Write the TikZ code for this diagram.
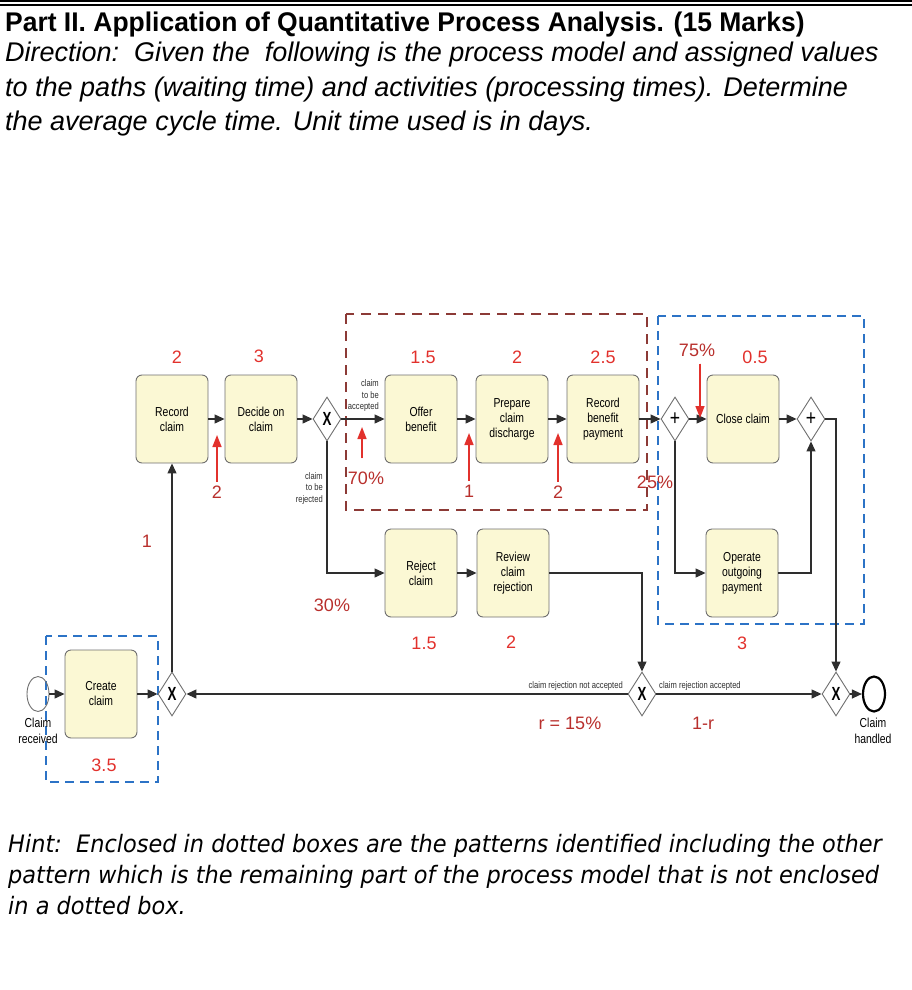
\documentclass[tikz,border=0pt]{standalone}
\usepackage{fontspec}
\setmainfont{Liberation Sans}
\newfontfamily\headfont[FakeStretch=0.98]{Liberation Sans}
\newfontfamily\hintfont[FakeStretch=0.935]{DejaVu Sans}
\newfontfamily\bpmnfont[FakeStretch=0.8]{Liberation Sans}
\newfontfamily\gatefont[FakeStretch=0.7]{Liberation Sans}
\usepackage{tikz}
\usetikzlibrary{
  arrows.meta,
  shapes.geometric,
  positioning,
  calc
}
\definecolor{clTask}{HTML}{FBF8D4}
\definecolor{clTaskLine}{HTML}{6F6F6F}
\definecolor{clFlow}{HTML}{2E2E2E}
\definecolor{clRed}{HTML}{E2312C}
\definecolor{clDark}{HTML}{B82F2C}
\definecolor{clBrown}{HTML}{8C3A36}
\definecolor{clBlue}{HTML}{2C73C6}
\tikzset{
  task/.style={
    draw=clTaskLine, fill=clTask, rounded corners=6pt, line width=0.9pt,
    minimum width=72pt, minimum height=88pt, inner sep=2pt, align=center,
    font=\bpmnfont\fontsize{13}{15}\selectfont
  },
  gate/.style={diamond, draw=clTaskLine, fill=white, line width=0.9pt,
    minimum width=28pt, minimum height=44pt, inner sep=0pt},
  xgate/.style={gate, font=\gatefont\bfseries\fontsize{19}{19}\selectfont},
  pgate/.style={gate, font=\bpmnfont\fontsize{22}{22}\selectfont},
  event/.style={ellipse, draw=clTaskLine, line width=0.9pt,
    minimum width=22pt, minimum height=35pt, inner sep=0pt},
  endevent/.style={event, draw=black, line width=2.2pt},
  flow/.style={-{Triangle[length=10pt, width=9pt]}, line width=1.2pt, draw=clFlow},
  redarrow/.style={-{Triangle[length=12pt, width=9pt]}, line width=1.6pt, draw=clRed, fill=clRed},
  num/.style={font=\fontsize{18}{18}\selectfont, text=clRed, inner sep=0pt},
  numdark/.style={num, text=clDark},
  tag/.style={font=\bpmnfont\fontsize{9.5}{11.5}\selectfont, align=right, inner sep=0pt, text=clFlow},
  evlabel/.style={font=\bpmnfont\fontsize{13}{16}\selectfont, align=center, inner sep=0pt},
  zoneA/.style={draw=clBrown, dash pattern=on 10pt off 7pt, line width=2pt},
  zoneB/.style={draw=clBlue, dash pattern=on 9pt off 6pt, line width=2pt},
  headline/.style={anchor=base west, inner sep=0pt, font=\itshape\fontsize{27}{27}\selectfont},
  hintline/.style={anchor=base west, inner sep=0pt, font=\hintfont\itshape\fontsize{24}{24}\selectfont}
}

\begin{document}
\begin{tikzpicture}[x=1pt, y=-1pt]
  \useasboundingbox (0,0) rectangle (912,990);
  % rules at the top
  \draw[line width=2.4pt] (0,1.2) -- (912,1.2);
  \draw[line width=1.6pt] (0,4.8) -- (912,4.8);

  % question text
  \node[headline, font=\headfont\bfseries\fontsize{27}{27}\selectfont] (title) at (5,32)
    {Part II. Application of Quantitative Process Analysis. (15 Marks)};
  \node[headline] (dir1) at (5,62) {Direction:\ \ Given the\ \ following is the process model and assigned values};
  \node[headline] (dir2) at (5,96) {to the paths (waiting time) and activities (processing times). Determine};
  \node[headline] (dir3) at (5,130) {the average cycle time. Unit time used is in days.};

  % pattern boxes
  \draw[zoneA] (346,314) rectangle (647,510);
  \draw[zoneB] (658,316) rectangle (864,624);
  \draw[zoneB] (46,636) rectangle (158,782);

  % activities
  \foreach \name/\x/\y/\txt in {
    create/101/694/{Create\\claim},
    record/172/419/{Record\\claim},
    decide/261/419/{Decide on\\claim},
    offer/421/419/{Offer\\benefit},
    prepare/512/419/{Prepare\\claim\\discharge},
    recben/603/419/{Record\\benefit\\payment},
    close/743/419/{Close claim},
    reject/421/573/{Reject\\claim},
    review/513/573/{Review\\claim\\rejection},
    operate/742/573/{Operate\\outgoing\\payment}}{
    \node[task] (\name) at (\x,\y) {\txt};
  }

  % events and gateways
  \node[event] (start) at (38,694) {};
  \node[evlabel] (startlbl) at (38,731) {Claim\\received};
  \node[endevent] (stop) at (874,694) {};
  \node[evlabel] (stoplbl) at (873,731) {Claim\\handled};
  \node[xgate] (gjoin) at (172,694) {X};
  \node[xgate] (gdecide) at (327,419) {X};
  \node[xgate] (grework) at (642,694) {X};
  \node[xgate] (gend) at (836,694) {X};
  \node[pgate] (psplit) at (675,419) {+};
  \node[pgate] (pjoin) at (811,419) {+};

  % sequence flows
  \draw[flow] (start) -- (create);
  \draw[flow] (create) -- (gjoin);
  \draw[flow] (gjoin) -- (record);
  \draw[flow] (record) -- (decide);
  \draw[flow] (decide) -- (gdecide);
  \draw[flow] (gdecide) -- (offer);
  \draw[flow] (gdecide.south) |- (reject);
  \draw[flow] (offer) -- (prepare);
  \draw[flow] (prepare) -- (recben);
  \draw[flow] (recben) -- (psplit);
  \draw[flow] (psplit) -- (close);
  \draw[flow] (psplit.south) |- (operate);
  \draw[flow] (close) -- (pjoin);
  \draw[flow] (operate) -| (pjoin.south);
  \draw[flow] (pjoin.east) -| (gend.north);
  \draw[flow] (reject) -- (review);
  \draw[flow] (review) -| (grework.north);
  \draw[flow] (grework) -- (gjoin);
  \draw[flow] (grework) -- (gend);
  \draw[flow] (gend) -- (stop);

  % flow labels
  \node[tag, anchor=south east] (lacc) at (379,412) {claim\\to be\\accepted};
  \node[tag, anchor=north east] (lrej) at (323,472) {claim\\to be\\rejected};
  \node[tag, anchor=base east] (lnot) at (623,688) {claim rejection not accepted};
  \node[tag, anchor=base west] (lyes) at (659,688) {claim rejection accepted};

  % processing times
  \node[num] (tcreate) at (104,765) {3.5};
  \node[num] (trecord) at (177,357) {2};
  \node[num] (tdecide) at (259,356) {3};
  \node[num] (toffer) at (423,357) {1.5};
  \node[num] (tprepare) at (517,357) {2};
  \node[num] (trecben) at (603,357) {2.5};
  \node[num] (tclose) at (755,357) {0.5};
  \node[num] (treject) at (424,643) {1.5};
  \node[num] (treview) at (511,642) {2};
  \node[num] (toperate) at (742,643) {3};

  % waiting times and probabilities
  \node[numdark] (wjoin) at (147,541) {1};
  \node[numdark] (wdecide) at (217,492) {2};
  \node[numdark] (wprepare) at (469,491) {1};
  \node[numdark] (wrecben) at (558,492) {2};
  \node[numdark] (p70) at (366,478) {70\%};
  \node[numdark] (p30) at (332,605) {30\%};
  \node[numdark] (p25) at (655,482) {25\%};
  \node[numdark] (p75) at (697,350) {75\%};
  \node[numdark] (prate) at (570,723) {r = 15\%};
  \node[numdark] (pnot) at (703,723) {1-r};

  \coordinate (a2tip) at (217,435);
  \coordinate (a1tip) at (469,433);
  \coordinate (a2btip) at (558,433);
  \coordinate (a70tip) at (362,427);
  \coordinate (a75tip) at (700,418);
  \draw[redarrow, shorten <=4pt] (wdecide.north) -- (a2tip);
  \draw[redarrow, shorten <=4pt] (wprepare.north) -- (a1tip);
  \draw[redarrow, shorten <=4pt] (wrecben.north) -- (a2btip);
  \draw[redarrow, shorten <=13pt] (p70.north -| a70tip) -- (a70tip);
  \draw[redarrow, shorten <=7pt] (p75.south -| a75tip) -- (a75tip);

  % hint
  \node[hintline] (hint1) at (8,852) {Hint:\ \ Enclosed in dotted boxes are the patterns identified including the other};
  \node[hintline] (hint2) at (8,883) {pattern which is the remaining part of the process model that is not enclosed};
  \node[hintline] (hint3) at (8,914) {in a dotted box.};
\end{tikzpicture}
\end{document}
